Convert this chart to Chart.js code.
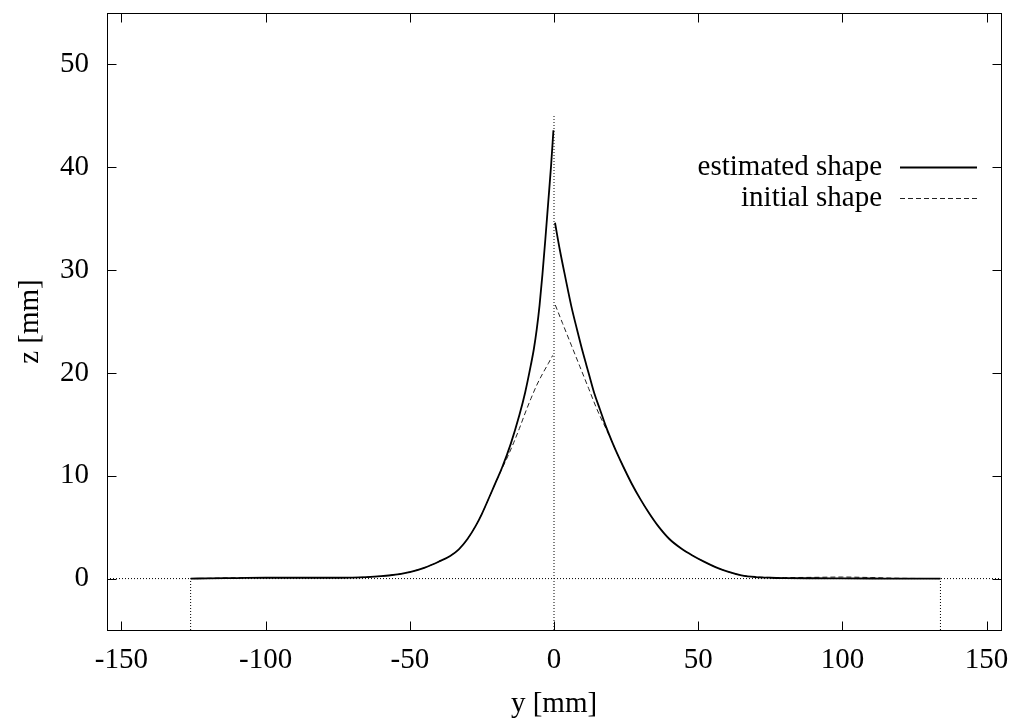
<!DOCTYPE html>
<html>
<head>
<meta charset="utf-8">
<script src="https://cdn.jsdelivr.net/npm/chart.js@4.4.1/dist/chart.umd.min.js"></script>
<style>
html,body{margin:0;padding:0;background:#fff;}
#c{display:block;}
</style>
</head>
<body>
<canvas id="c" width="1013" height="724"></canvas>
<script>
const xTicks = [-150, -100, -50, 0, 50, 100, 150];
const yTicks = [0, 10, 20, 30, 40, 50];

const estimatedX = [-126,-120,-110,-100,-90,-80,-70,-65,-60,-55,-50,-45,-40,-36,-33,-30,-27,-25,-22,-20,-18,-15,-12,-10,-8,-7,-6,-5,-4,-3,-2,-1,-0.2,0,
  0.35,2,4,6,8,10,12,14,16,18,20,22,24,27,30,33,36,40,44,48,52,56,60,65,70,75,80,90,100,110,120,134];
const estimatedY = [0,0.02,0.05,0.08,0.08,0.08,0.1,0.14,0.23,0.39,0.64,1.05,1.64,2.2,2.85,3.85,5.2,6.3,8.2,9.5,10.8,13.1,15.9,18.1,20.8,22.3,24.2,26.6,29.6,33.0,36.6,40.2,43.6,null,
  34.6,32.0,29.2,26.5,24.2,22.0,20.0,18.0,16.4,14.8,13.4,12.1,10.9,9.2,7.7,6.35,5.15,3.85,2.95,2.25,1.65,1.12,0.7,0.32,0.15,0.08,0.05,0.03,0.02,0.01,0,0];

const initialX = [-126,-120,-110,-100,-90,-80,-70,-65,-60,-55,-50,-45,-40,-36,-33,-30,-27,-25,-22,-20,-18,-16,-14,-12,-10,-8,-6,-4,-2,-0.45,0,
  0.45,3,6,9,12,15,18,20,22,24,27,30,33,36,40,44,48,52,56,60,65,70,75,80,90,100,110,120,134];
const initialY = [0,0.03,0.08,0.1,0.1,0.09,0.1,0.14,0.23,0.39,0.64,1.05,1.64,2.2,2.85,3.85,5.2,6.3,8.2,9.5,10.7,11.9,13.2,14.6,16.1,17.5,18.8,19.9,20.9,21.7,null,
  26.6,24.8,22.7,20.6,18.5,16.4,14.6,13.4,12.1,10.9,9.2,7.7,6.35,5.15,3.85,2.95,2.25,1.65,1.12,0.7,0.32,0.17,0.11,0.1,0.12,0.15,0.1,0.03,0];

const zeroLineX = [-155, 155];   const zeroLineY = [0, 0];
const centerLineX = [0, 0];      const centerLineY = [-5, 45];
const leftEdgeX = [-126, -126];  const leftEdgeY = [-5, 0];
const rightEdgeX = [134, 134];   const rightEdgeY = [-5, 0];

const pts = (xs, ys) => xs.map((v, i) => ({x: v, y: ys[i]}));
const FONT = 'Liberation Serif, "Times New Roman", serif';
const FS = 29;

const dotted = (xs, ys) => ({
  data: pts(xs, ys), borderColor: '#000', borderWidth: 1, borderDash: [1, 2],
  pointRadius: 0, showLine: true, fill: false
});

const frame = {
  id: 'frame',
  afterDatasetsDraw(chart) {
    const {ctx, chartArea: a, scales: {x, y}} = chart;
    ctx.save();
    ctx.strokeStyle = '#000';
    ctx.lineWidth = 1;
    ctx.setLineDash([]);
    const L = Math.round(a.left) + 0.5, R = Math.round(a.right) + 0.5;
    const T = Math.round(a.top) + 0.5, B = Math.round(a.bottom) + 0.5;
    ctx.strokeRect(L, T, R - L, B - T);
    const tl = 9;
    ctx.beginPath();
    xTicks.forEach(v => {
      const px = Math.round(x.getPixelForValue(v)) + 0.5;
      ctx.moveTo(px, B); ctx.lineTo(px, B - tl);
      ctx.moveTo(px, T); ctx.lineTo(px, T + tl);
    });
    yTicks.forEach(v => {
      const py = Math.round(y.getPixelForValue(v)) + 0.5;
      ctx.moveTo(L, py); ctx.lineTo(L + tl, py);
      ctx.moveTo(R, py); ctx.lineTo(R - tl, py);
    });
    ctx.stroke();
    // legend
    ctx.font = FS + 'px ' + FONT;
    ctx.fillStyle = '#000';
    ctx.textAlign = 'right';
    ctx.textBaseline = 'middle';
    let yy = 167;
    chart.data.datasets.forEach(ds => {
      if (!ds.label) return;
      ctx.fillText(ds.label, 882, yy);
      ctx.beginPath();
      ctx.lineWidth = ds.borderWidth;
      ctx.strokeStyle = ds.borderColor;
      ctx.setLineDash(ds.borderDash || []);
      ctx.moveTo(900, Math.round(yy) + 0.5);
      ctx.lineTo(977, Math.round(yy) + 0.5);
      ctx.stroke();
      yy += 31;
    });
    ctx.restore();
  }
};

new Chart(document.getElementById('c'), {
  type: 'scatter',
  data: {
    datasets: [
      dotted(zeroLineX, zeroLineY),
      dotted(centerLineX, centerLineY),
      dotted(leftEdgeX, leftEdgeY),
      dotted(rightEdgeX, rightEdgeY),
      {
        label: 'estimated shape', data: pts(estimatedX, estimatedY),
        borderColor: '#000', borderWidth: 1.8, pointRadius: 0, showLine: true,
        cubicInterpolationMode: 'monotone', spanGaps: false, fill: false
      },
      {
        label: 'initial shape', data: pts(initialX, initialY),
        borderColor: '#222', borderWidth: 1, borderDash: [5, 3], pointRadius: 0, showLine: true,
        cubicInterpolationMode: 'monotone', spanGaps: false, fill: false
      }
    ]
  },
  options: {
    responsive: false,
    animation: false,
    devicePixelRatio: 1,
    layout: {padding: {top: 13, right: 12, left: 0, bottom: 0}},
    plugins: {legend: {display: false}, tooltip: {enabled: false}},
    scales: {
      x: {
        type: 'linear', min: -155, max: 155,
        afterBuildTicks: s => { s.ticks = xTicks.map(v => ({value: v})); },
        afterFit: s => { s.height = 94; s.paddingLeft = 0; s.paddingRight = 0; s.paddingTop = 0; s.paddingBottom = 0; },
        grid: {display: false, drawTicks: false},
        border: {display: false},
        ticks: {color: '#000', font: {family: FONT, size: FS}, padding: 13, maxRotation: 0, autoSkip: false},
        title: {display: true, text: 'y [mm]', color: '#000', font: {family: FONT, size: FS}, padding: {top: 4, bottom: 2}}
      },
      y: {
        type: 'linear', min: -5, max: 55,
        afterBuildTicks: s => { s.ticks = yTicks.map(v => ({value: v})); },
        afterFit: s => { s.width = 107; s.paddingLeft = 0; s.paddingRight = 0; s.paddingTop = 0; s.paddingBottom = 0; },
        grid: {display: false, drawTicks: false},
        border: {display: false},
        ticks: {color: '#000', font: {family: FONT, size: FS}, padding: 18, autoSkip: false},
        title: {display: true, text: 'z [mm]', color: '#000', font: {family: FONT, size: FS}, padding: {top: 13, bottom: 4}}
      }
    }
  },
  plugins: [frame]
});
</script>
</body>
</html>
